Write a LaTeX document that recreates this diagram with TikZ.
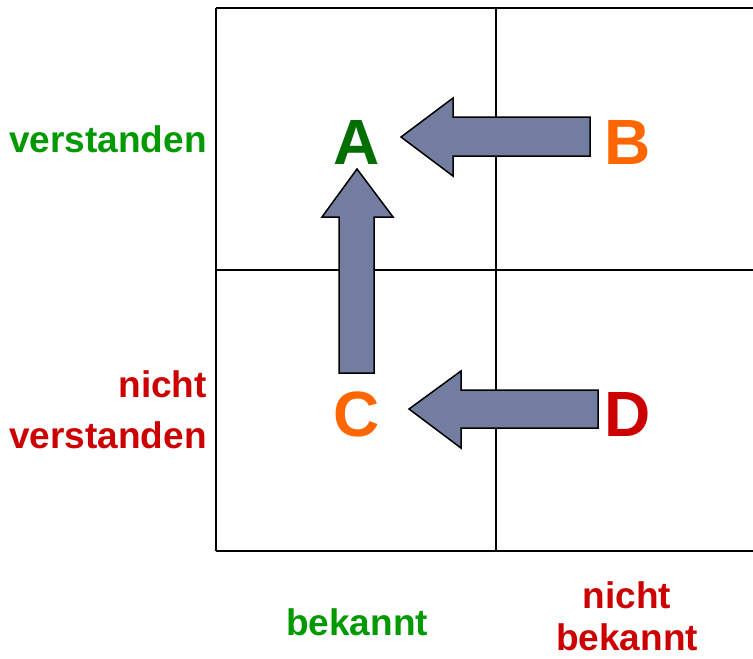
\documentclass[tikz,border=0pt]{standalone}
\usepackage{fontspec}
\setmainfont{Liberation Sans}
\usepackage{xcolor}
\usetikzlibrary{positioning}
\definecolor{okgreen}{RGB}{0,153,0}
\definecolor{lettergreen}{RGB}{0,110,0}
\definecolor{notred}{RGB}{204,0,0}
\definecolor{midorange}{RGB}{255,102,0}
\definecolor{arrowblue}{RGB}{115,125,160}
\tikzset{
	gridline/.style={
		draw=black,
		line width=2pt
	},
	letter/.style={
		anchor=base,
		inner sep=0pt,
		font=\fontsize{64}{70}\selectfont\bfseries
	},
	axislabel/.style={
		inner sep=0pt,
		font=\fontsize{37}{43}\selectfont\bfseries
	},
	blockarrow/.style={
		draw=black,
		fill=arrowblue,
		line width=1.5pt,
		line join=miter
	}
}
\begin{document}
\begin{tikzpicture}[x=1pt,y=-1pt]
	\useasboundingbox (0,0) rectangle (753,659);
	
	% Grid
	\draw[gridline] (216,8) -- (216,551);
	\draw[gridline] (496,8) -- (496,551);
	\draw[gridline] (216,8) -- (753,8);
	\draw[gridline] (216,270) -- (753,270);
	\draw[gridline] (216,551) -- (753,551);
	
	% Arrows
	\draw[blockarrow] (590,117) -- (453,117) -- (453,98) -- (401,137)
		-- (453,176) -- (453,156) -- (590,156) -- cycle;
	\draw[blockarrow] (339,373) -- (339,217) -- (322,217) -- (357,169)
		-- (393,217) -- (374,217) -- (374,373) -- cycle;
	\draw[blockarrow] (598,390) -- (461,390) -- (461,371) -- (409,409)
		-- (461,448) -- (461,428) -- (598,428) -- cycle;
	
	% Letters
	\node[letter,text=lettergreen] (A) at (357,164) {A};
	\node[letter,text=midorange] (B) at (628,164) {B};
	\node[letter,text=midorange] (C) at (357,436) {C};
	\node[letter,text=notred] (D) at (628,436) {D};
	
	% Labels
	\node[axislabel,anchor=base east,text=okgreen] (rowok) at (207,152) {verstanden};
	\node[axislabel,anchor=base east,text=notred] (rownot) at (207,397) {nicht};
	\node[axislabel,anchor=base east,text=notred] (rownotb) at (207,448) {verstanden};
	\node[axislabel,anchor=base,text=okgreen] (colok) at (357,635) {bekannt};
	\node[axislabel,anchor=base,text=notred] (colnot) at (627,608) {nicht};
	\node[axislabel,anchor=base,text=notred] (colnotb) at (627,650) {bekannt};
	
\end{tikzpicture}
\end{document}
